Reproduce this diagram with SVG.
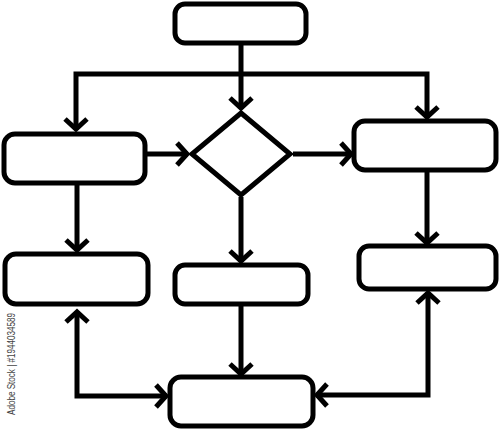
<svg xmlns="http://www.w3.org/2000/svg" width="500" height="429" viewBox="0 0 500 429">
  <style>
    .node { fill: #ffffff; stroke: #000000; stroke-width: 5; }
    .conn { fill: none; stroke: #000000; stroke-width: 5; stroke-linejoin: miter; }
    .wm { font-family: "Liberation Sans", Arial, sans-serif; font-size: 10px; fill: #444444; }
  </style>
  <defs>
    <marker id="arr" markerUnits="userSpaceOnUse" viewBox="-14 -14 16 28" refX="0" refY="0" markerWidth="16" markerHeight="28" orient="auto-start-reverse" overflow="visible">
      <path d="M-11,-11 L-1,0 L-11,11" fill="none" stroke="#000" stroke-width="5" stroke-linejoin="miter"/>
    </marker>
  </defs>
  <rect width="500" height="429" fill="#ffffff"/>
  <g id="connectors">
    <path class="conn" d="M241,45 V109" marker-end="url(#arr)"/>
    <path class="conn" d="M76,130 V74 H427 V118" marker-start="url(#arr)" marker-end="url(#arr)"/>
    <path class="conn" d="M147,154 H188" marker-end="url(#arr)"/>
    <path class="conn" d="M293,154 H352" marker-end="url(#arr)"/>
    <path class="conn" d="M77,185 V251" marker-end="url(#arr)"/>
    <path class="conn" d="M241,197 V262" marker-end="url(#arr)"/>
    <path class="conn" d="M427,172 V244" marker-end="url(#arr)"/>
    <path class="conn" d="M241,306 V375" marker-end="url(#arr)"/>
    <path class="conn" d="M77,311 V396 H167" marker-start="url(#arr)" marker-end="url(#arr)"/>
    <path class="conn" d="M428,292 V395 H316" marker-start="url(#arr)" marker-end="url(#arr)"/>
  </g>
  <g id="top"><rect class="node" x="175" y="4" width="131" height="39" rx="10"/></g>
  <g id="left"><rect class="node" x="4" y="134" width="141" height="49" rx="11"/></g>
  <g id="decision"><polygon class="node" points="241,113 290,154 241,195 192,154" stroke-linejoin="miter"/></g>
  <g id="right"><rect class="node" x="354" y="121" width="142" height="49" rx="11"/></g>
  <g id="bottom-left"><rect class="node" x="5" y="254" width="143" height="50" rx="11"/></g>
  <g id="middle"><rect class="node" x="175" y="265" width="133" height="39" rx="10"/></g>
  <g id="bottom-right"><rect class="node" x="359" y="246" width="137" height="43" rx="10"/></g>
  <g id="bottom"><rect class="node" x="170" y="377" width="143" height="49" rx="11"/></g>
  <text class="wm" transform="translate(15,415) rotate(-90)" textLength="102" lengthAdjust="spacingAndGlyphs">Adobe Stock | #1944034589</text>
</svg>
